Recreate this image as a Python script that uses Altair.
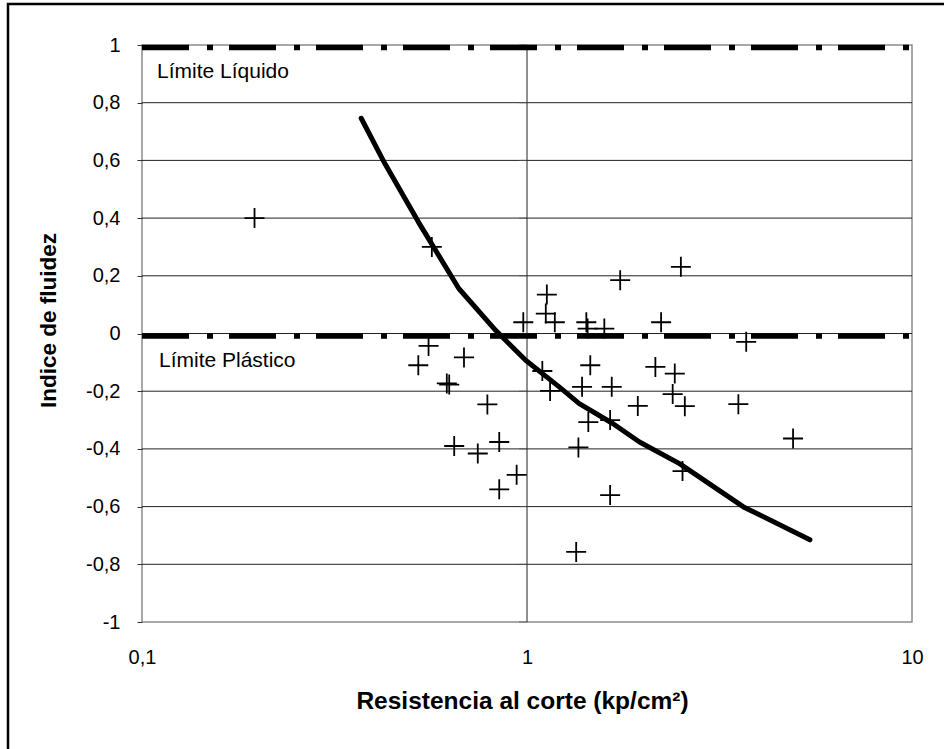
import altair as alt
import pandas as pd

# Scatter data (Resistencia al corte, Indice de fluidez)
pts_x = [0.196, 0.566, 1.746, 1.126, 0.978, 1.119, 1.181, 1.426, 1.437, 1.588,
         2.23, 2.51, 3.71, 0.555, 0.522, 0.686, 0.619, 0.628, 0.789, 0.647,
         0.745, 0.847, 0.940, 0.847, 1.096, 1.148, 1.46, 1.39, 1.66, 1.443,
         1.644, 1.94, 1.36, 1.644, 2.155, 2.42, 2.39, 2.57, 3.54, 2.535,
         4.91, 1.342]
pts_y = [0.40, 0.30, 0.185, 0.135, 0.039, 0.069, 0.039, 0.039, 0.017, 0.017,
         0.039, 0.231, -0.029, -0.043, -0.11, -0.083, -0.173, -0.177, -0.246, -0.39,
         -0.416, -0.376, -0.49, -0.54, -0.13, -0.199, -0.11, -0.185, -0.185, -0.307,
         -0.30, -0.251, -0.395, -0.56, -0.116, -0.139, -0.21, -0.252, -0.245, -0.477,
         -0.364, -0.757]

# Fitted curve
curve_x = [0.371, 0.427, 0.522, 0.665, 0.829, 0.992, 1.212, 1.367, 1.67, 1.96, 2.49, 3.65, 5.43]
curve_y = [0.746, 0.59, 0.387, 0.156, 0.011, -0.093, -0.185, -0.243, -0.312, -0.376, -0.451, -0.601, -0.715]

# Limits (Límite Líquido = 1, Límite Plástico = 0)
limit_y = [1, 0]
limit_labels = ["Límite Líquido", "Límite Plástico"]
label_x = [0.1094, 0.1107]
label_y = [0.885, -0.116]

grid_y = [-0.8, -0.6, -0.4, -0.2, 0, 0.2, 0.4, 0.6, 0.8]
vline_x = [1]
y_ticks = [-1, -0.8, -0.6, -0.4, -0.2, 0, 0.2, 0.4, 0.6, 0.8, 1]
x_ticks = [0.1, 1, 10]

W, H = 770, 577
FONT = "Liberation Sans"

xs = alt.Scale(type="log", domain=[0.1, 10], nice=False)
ys = alt.Scale(domain=[-1, 1], nice=False, zero=False)

xaxis = alt.Axis(values=x_ticks, grid=False, ticks=False, tickSize=0, domain=False,
                 labelExpr="replace(toString(datum.value), '.', ',')",
                 labelFontSize=20, labelFont=FONT, labelColor="black", labelPadding=25,
                 labelFlush=False,
                 title="Resistencia al corte (kp/cm²)", titleFont=FONT, titleFontSize=24.5,
                 titleFontWeight="bold", titleColor="black",
                 titleX=380, titleY=79, titleAlign="center", titleBaseline="middle")
yaxis = alt.Axis(values=y_ticks, grid=False, ticks=True, tickSize=5, tickColor="#333",
                 domain=False,
                 labelExpr="replace(toString(datum.value), '.', ',')",
                 labelFontSize=20, labelFont=FONT, labelColor="black", labelPadding=17,
                 labelFlush=False,
                 title="Indice de fluidez", titleFont=FONT, titleFontSize=22.5,
                 titleFontWeight="bold", titleColor="black", titleAngle=270,
                 titleX=-94, titleY=275, titleAlign="center", titleBaseline="middle")

X = alt.X("x:Q", scale=xs, axis=xaxis)
Y = alt.Y("y:Q", scale=ys, axis=yaxis)

pts_df = pd.DataFrame({"x": pts_x, "y": pts_y})
curve_df = pd.DataFrame({"x": curve_x, "y": curve_y, "o": list(range(len(curve_x)))})
lim_df = pd.DataFrame({"y": limit_y})
lab_df = pd.DataFrame({"x": label_x, "y": label_y, "t": limit_labels})
grid_df = pd.DataFrame({"y": grid_y})
vline_df = pd.DataFrame({"x": vline_x})
cross_ticks_df = pd.DataFrame({"x": [1] * len(y_ticks), "y": y_ticks})

frame = alt.Chart(pd.DataFrame({"a": [0]})).mark_rect(
    fill=None, stroke="black", strokeWidth=2.5, clip=False
).encode(x=alt.value(-134), x2=alt.value(820), y=alt.value(-41), y2=alt.value(720))

grid = alt.Chart(grid_df).mark_rule(color="#222", strokeWidth=1).encode(
    y=Y, x=alt.value(0), x2=alt.value(W))

vline = alt.Chart(vline_df).mark_rule(color="#222", strokeWidth=1).encode(
    x=X, y=alt.value(0), y2=alt.value(H))

# small tick marks of the secondary axis crossing at x = 1
cross_ticks = alt.Chart(cross_ticks_df).mark_tick(
    orient="horizontal", size=8, thickness=1, color="#555", xOffset=-4
).encode(x=X, y=Y)

limits = alt.Chart(lim_df).mark_rule(
    color="black", strokeWidth=5.5, strokeDash=[47, 18, 6, 16], strokeCap="butt", yOffset=2.5
).encode(y=Y, x=alt.value(0), x2=alt.value(W))

curve = alt.Chart(curve_df).mark_line(
    color="black", strokeWidth=5, strokeCap="round", strokeJoin="round"
).encode(x=X, y=Y, order="o:O")

points = alt.Chart(pts_df).mark_point(
    shape="M-1,0L1,0M0,-1L0,1", size=400, filled=False, color="black",
    strokeWidth=1.8, opacity=1
).encode(x=X, y=Y)

labels = alt.Chart(lab_df).mark_text(
    align="left", baseline="alphabetic", font=FONT, fontSize=21, color="black"
).encode(x=X, y=Y, text="t:N")

chart = alt.layer(frame, grid, vline, cross_ticks, limits, curve, points, labels).properties(
    width=W, height=H,
    autosize=alt.AutoSizeParams(type="none"),
    padding={"left": 142, "top": 45, "right": 32, "bottom": 127},
    background="white",
).configure_view(stroke="#8c8c8c", strokeWidth=1.5)

chart.save("out.html", embed_options={"renderer": "svg", "actions": False})
